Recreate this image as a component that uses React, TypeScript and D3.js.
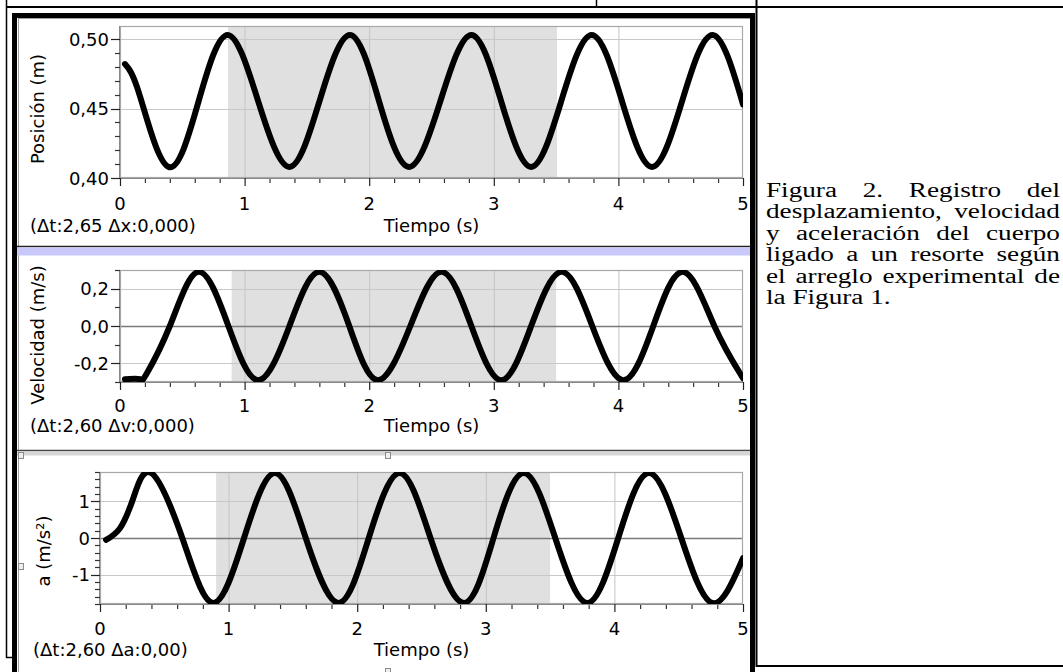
import React from 'react';
import * as d3 from 'd3';

// ---------- data ----------
const timeTicks = [0, 1, 2, 3, 4, 5];

const posTime = [0.04, 0.16, 0.39, 0.63, 0.865, 1.11, 1.36, 1.6, 1.845, 2.08, 2.32, 2.57, 2.82, 3.06, 3.3, 3.54, 3.786, 4.03, 4.27, 4.51, 4.756, 5.0];
const posValue = [0.482, 0.459, 0.408, 0.455, 0.503, 0.455, 0.408, 0.455, 0.503, 0.455, 0.408, 0.455, 0.503, 0.455, 0.408, 0.455, 0.503, 0.455, 0.408, 0.455, 0.503, 0.453];

const velTime = [0.04, 0.16, 0.21, 0.4, 0.63, 0.87, 1.11, 1.36, 1.6, 1.84, 2.07, 2.33, 2.58, 2.82, 3.06, 3.3, 3.545, 3.79, 4.04, 4.28, 4.52, 4.77, 5.0];
const velValue = [-0.285, -0.285, -0.26, 0, 0.29, 0, -0.29, 0, 0.29, 0, -0.29, 0, 0.29, 0, -0.29, 0, 0.29, 0, -0.29, 0, 0.29, 0, -0.28];

const accTime = [0.047, 0.156, 0.26, 0.4, 0.64, 0.88, 1.12, 1.36, 1.6, 1.855, 2.09, 2.33, 2.57, 2.83, 3.06, 3.295, 3.54, 3.79, 4.03, 4.27, 4.52, 4.76, 5.0];
const accValue = [-0.05, 0.27, 1.1, 1.77, 0, -1.77, 0, 1.77, 0, -1.77, 0, 1.77, 0, -1.77, 0, 1.77, 0, -1.77, 0, 1.77, 0, -1.77, -0.55];

const posTicks = [0.4, 0.45, 0.5];
const velTicks = [-0.2, 0, 0.2];
const accTicks = [-1, 0, 1];

const posSelection = [0.867, 3.507];
const velSelection = [0.896, 3.5];
const accSelection = [0.903, 3.5];

const posLabel = 'Posición (m)';
const velLabel = 'Velocidad (m/s)';
const accLabel = 'a (m/s²)';
const xLabel = 'Tiempo (s)';
const posDelta = '(Δt:2,65 Δx:0,000)';
const velDelta = '(Δt:2,60 Δv:0,000)';
const accDelta = '(Δt:2,60 Δa:0,00)';

const captionLines = [
  'Figura 2. Registro del',
  'desplazamiento, velocidad',
  'y aceleración del cuerpo',
  'ligado a un resorte según',
  'el arreglo experimental de',
  'la Figura 1.',
];

// ---------- layout ----------
const FONT = "'DejaVu Sans', Verdana, sans-serif";
const FS = 18;

type PanelCfg = {
  id: string;
  left: number; right: number; top: number; bottom: number;
  yDomain: [number, number];
  yTicks: number[];
  yMinorStep: number;
  decimals: number;
  zeroLine: boolean;
  t: number[]; v: number[];
  sel: number[];
  yLabel: string; yLabelX: number; yLabelY: number;
  delta: string; deltaX: number; textBaseline: number;
  tickBaseline: number;
  labelGap: number;
};

const panels: PanelCfg[] = [
  {
    id: 'p1', left: 120, right: 743, top: 26, bottom: 178,
    yDomain: [0.4, 0.5094], yTicks: posTicks, yMinorStep: 0.01, decimals: 2, zeroLine: false,
    t: posTime, v: posValue, sel: posSelection,
    yLabel: posLabel, yLabelX: 38, yLabelY: 109,
    delta: posDelta, deltaX: 30, textBaseline: 232, tickBaseline: 210, labelGap: 11,
  },
  {
    id: 'p2', left: 120, right: 743, top: 270, bottom: 382,
    yDomain: [-0.3, 0.3], yTicks: velTicks, yMinorStep: 0.1, decimals: 1, zeroLine: true,
    t: velTime, v: velValue, sel: velSelection,
    yLabel: velLabel, yLabelX: 38, yLabelY: 335,
    delta: velDelta, deltaX: 30, textBaseline: 432, tickBaseline: 412, labelGap: 11,
  },
  {
    id: 'p3', left: 100, right: 743, top: 472, bottom: 604,
    yDomain: [-1.8, 1.8], yTicks: accTicks, yMinorStep: 0.2, decimals: 0, zeroLine: true,
    t: accTime, v: accValue, sel: accSelection,
    yLabel: accLabel, yLabelX: 44, yLabelY: 551,
    delta: accDelta, deltaX: 33, textBaseline: 656, tickBaseline: 635, labelGap: 10,
  },
];

function fmt(v: number, d: number) {
  const s = v.toFixed(d).replace('.', ',');
  return s === '-0' || s === '-0,0' ? s.slice(1) : s;
}

function Panel({ c }: { c: PanelCfg }) {
  const x = d3.scaleLinear().domain([0, 5]).range([c.left, c.right]);
  const y = d3.scaleLinear().domain(c.yDomain).range([c.bottom, c.top]);
  const line = d3
    .line<number>()
    .x((_, i) => x(c.t[i]))
    .y((d) => y(d))
    .curve(d3.curveNatural);
  const xMinor = d3.range(0, 5.0001, 0.2).filter((v) => Math.abs(v - Math.round(v)) > 1e-6);
  const yMinor: number[] = [];
  for (let v = Math.ceil(c.yDomain[0] / c.yMinorStep - 1e-6) * c.yMinorStep; v <= c.yDomain[1] + 1e-9; v += c.yMinorStep) {
    if (!c.yTicks.some((t) => Math.abs(t - v) < 1e-6)) yMinor.push(v);
  }
  const clipId = 'clip-' + c.id;
  return (
    <g>
      <defs>
        <clipPath id={clipId}>
          <rect x={c.left} y={c.top} width={c.right - c.left} height={c.bottom - c.top} />
        </clipPath>
      </defs>
      <rect x={c.left} y={c.top} width={c.right - c.left} height={c.bottom - c.top} fill="#fff" />
      <rect x={x(c.sel[0])} y={c.top} width={x(c.sel[1]) - x(c.sel[0])} height={c.bottom - c.top} fill="#e0e0e0" />
      {timeTicks.slice(1, -1).map((t) => (
        <line key={'gx' + t} x1={x(t) + 0.5} x2={x(t) + 0.5} y1={c.top} y2={c.bottom} stroke="#c4c4c4" strokeWidth={1} />
      ))}
      {c.yTicks.map((t) => (
        <line key={'gy' + t} x1={c.left} x2={c.right} y1={Math.round(y(t)) + 0.5} y2={Math.round(y(t)) + 0.5}
          stroke={c.zeroLine && t === 0 ? '#7a7a7a' : '#c8c8c8'} strokeWidth={c.zeroLine && t === 0 ? 1.6 : 1.2} />
      ))}
      <rect x={c.left + 0.5} y={c.top + 0.5} width={c.right - c.left - 1} height={c.bottom - c.top - 1} fill="none" stroke="#a8a8a8" strokeWidth={1.2} />
      <path d={line(c.v) || ''} fill="none" stroke="#000" strokeWidth={6} strokeLinejoin="round" strokeLinecap="round" clipPath={`url(#${clipId})`} />
      {/* x axis ticks */}
      <line x1={c.left} x2={c.right} y1={c.bottom + 0.5} y2={c.bottom + 0.5} stroke="#888" strokeWidth={1} />
      {timeTicks.map((t) => (
        <line key={'xt' + t} x1={x(t) + 0.5} x2={x(t) + 0.5} y1={c.bottom} y2={c.bottom + 8} stroke="#222" strokeWidth={1.2} />
      ))}
      {xMinor.map((t) => (
        <line key={'xm' + t} x1={x(t) + 0.5} x2={x(t) + 0.5} y1={c.bottom + 1} y2={c.bottom + 5} stroke="#333" strokeWidth={1.2} />
      ))}
      {timeTicks.map((t) => (
        <text key={'xl' + t} x={x(t)} y={c.tickBaseline} textAnchor="middle" fontFamily={FONT} fontSize={FS} fill="#000">
          {String(t)}
        </text>
      ))}
      {/* y axis ticks */}
      <line x1={c.left - 0.5} x2={c.left - 0.5} y1={c.top} y2={c.bottom} stroke="#888" strokeWidth={1} />
      {c.yTicks.map((t) => (
        <line key={'yt' + t} x1={c.left - 9} x2={c.left} y1={Math.round(y(t)) + 0.5} y2={Math.round(y(t)) + 0.5} stroke="#222" strokeWidth={1.2} />
      ))}
      {yMinor.map((t) => (
        <line key={'ym' + t} x1={c.left - 5} x2={c.left} y1={Math.round(y(t)) + 0.5} y2={Math.round(y(t)) + 0.5} stroke="#333" strokeWidth={1.2} />
      ))}
      {c.yTicks.map((t) => (
        <text key={'yl' + t} x={c.left - c.labelGap} y={y(t) + 6.5} textAnchor="end" fontFamily={FONT} fontSize={FS} fill="#000">
          {fmt(t, c.decimals)}
        </text>
      ))}
      <text transform={`translate(${c.yLabelX},${c.yLabelY}) rotate(-90)`} textAnchor="middle" dy="0.36em" fontFamily={FONT} fontSize={FS} fill="#000">
        {c.yLabel}
      </text>
      <text x={c.deltaX} y={c.textBaseline} fontFamily={FONT} fontSize={FS} fill="#000">{c.delta}</text>
      <text x={(c.left + c.right) / 2} y={c.textBaseline} textAnchor="middle" fontFamily={FONT} fontSize={FS} fill="#000">{xLabel}</text>
    </g>
  );
}

const CAP_FONT_SIZE = 20;
const CAP_SX = 1.36;
const CAP_FAMILY = "'Liberation Serif', 'Times New Roman', serif";
const CAP_FONT = `${CAP_FONT_SIZE}px 'Liberation Serif'`;
const CAP_LEFT = 766;
const CAP_RIGHT = 1060;
const CAP_BASE = 197;
const CAP_STEP = 21.4;

function measure(text: string): number {
  const ctx = document.createElement('canvas').getContext('2d');
  if (!ctx) return text.length * CAP_FONT_SIZE * 0.45 * CAP_SX;
  ctx.font = CAP_FONT;
  return ctx.measureText(text).width * CAP_SX;
}

function Caption() {
  return (
    <g>
      {captionLines.map((ln, li) => {
        const words = ln.split(' ');
        const yb = CAP_BASE + li * CAP_STEP;
        const last = li === captionLines.length - 1;
        const widths = words.map(measure);
        const total = widths.reduce((a, b) => a + b, 0);
        const gap = last || words.length < 2 ? measure(' ') : (CAP_RIGHT - CAP_LEFT - total) / (words.length - 1);
        let cx = CAP_LEFT;
        return (
          <g key={li}>
            {words.map((w, wi) => {
              const el = (
                <text key={wi} transform={`translate(${cx},${yb}) scale(${CAP_SX},1)`} fontFamily={CAP_FAMILY} fontSize={CAP_FONT_SIZE} fill="#000">{w}</text>
              );
              cx += widths[wi] + gap;
              return el;
            })}
          </g>
        );
      })}
    </g>
  );
}

export default function App() {
  return (
    <svg width={1063} height={672} viewBox="0 0 1063 672" style={{ position: 'absolute', left: 0, top: 0, display: 'block' }}>
      <rect x={0} y={0} width={1063} height={672} fill="#fff" />
      {/* document table lines */}
      <line x1={6} x2={1063} y1={7} y2={7} stroke="#000" strokeWidth={2} />
      <line x1={6.5} x2={6.5} y1={0} y2={658} stroke="#000" strokeWidth={1.5} />
      <line x1={6} x2={14} y1={657.5} y2={657.5} stroke="#000" strokeWidth={1.5} />
      <line x1={596.5} x2={596.5} y1={0} y2={7} stroke="#000" strokeWidth={1.5} />
      <line x1={756.5} x2={756.5} y1={0} y2={667} stroke="#000" strokeWidth={2} />
      <line x1={756} x2={1063} y1={666} y2={666} stroke="#000" strokeWidth={2} />
      {/* chart frame */}
      <rect x={14.5} y={15.5} width={738} height={720} fill="#fff" stroke="#000" strokeWidth={5} />
      <line x1={18.5} x2={18.5} y1={18} y2={672} stroke="#a0a0a0" strokeWidth={1} />
      <line x1={18} x2={750} y1={18.5} y2={18.5} stroke="#a0a0a0" strokeWidth={1} />
      {/* separators */}
      <line x1={17} x2={750} y1={246.5} y2={246.5} stroke="#222" strokeWidth={1.5} />
      <rect x={17} y={247.5} width={733} height={8} fill="#c8c8fa" />
      <line x1={17} x2={750} y1={450.5} y2={450.5} stroke="#444" strokeWidth={1.5} />
      <rect x={17} y={451.5} width={733} height={4} fill="#d6d6d6" />
      {[[18, 452], [385, 452], [18, 563], [385, 668]].map(([hx, hy], i) => (
        <rect key={'h' + i} x={hx + 0.5} y={hy + 0.5} width={5} height={6} fill="#eeeeee" stroke="#8a8a8a" strokeWidth={1} />
      ))}
      {panels.map((c) => (
        <Panel key={c.id} c={c} />
      ))}
      <Caption />
    </svg>
  );
}
